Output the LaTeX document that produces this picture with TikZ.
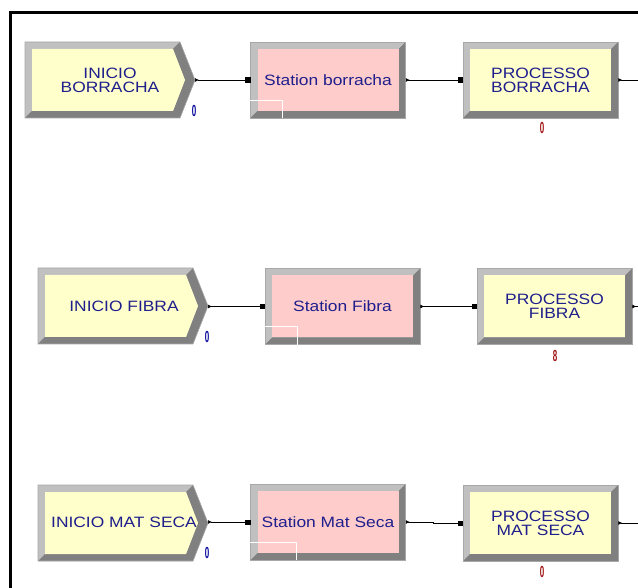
\documentclass[tikz,border=0pt]{standalone}
\usepackage{fontspec}
\usepackage{tikz}
\usetikzlibrary{arrows.meta}
\newfontfamily\arenafont[FakeStretch=1.16]{Liberation Sans}
\newfontfamily\countfont[FakeStretch=0.5]{Liberation Sans}
\definecolor{navy}{HTML}{1E1E8C}
\definecolor{bevlight}{HTML}{C0C0C0}
\definecolor{bevdark}{HTML}{808080}
\definecolor{bevedge}{HTML}{A8A8A8}
\definecolor{yellowfill}{HTML}{FFFFCC}
\definecolor{pinkfill}{HTML}{FFCCCC}
\definecolor{cntblue}{HTML}{0A0A9C}
\definecolor{cntred}{HTML}{A01414}

\tikzset{
  modtext/.style={font=\arenafont\fontsize{15}{14}\selectfont, text=navy, align=center, inner sep=0pt},
  module/.style={modtext, minimum width=155pt, minimum height=76pt, fill=bevlight, draw=bevedge, line width=0.6pt,
    path picture={
      \fill[bevdark] (path picture bounding box.south west) -- (path picture bounding box.south east)
        -- (path picture bounding box.north east) -- ([shift={(-7pt,-7pt)}]path picture bounding box.north east)
        -- ([shift={(-7pt,7pt)}]path picture bounding box.south east) -- ([shift={(7pt,7pt)}]path picture bounding box.south west) -- cycle;
      \fill[#1] ([shift={(7pt,7pt)}]path picture bounding box.south west) rectangle ([shift={(-7pt,-7pt)}]path picture bounding box.north east);
    }},
  createmod/.pic={
    \fill[bevlight] (0,0) -- (155,0) -- (170,38) -- (155,76) -- (0,76) -- cycle;
    \fill[bevdark] (155,0) -- (170,38) -- (155,76) -- (0,76) -- (7,69) -- (148,69) -- (160,38) -- (148,7) -- cycle;
    \fill[yellowfill] (7,7) -- (148,7) -- (160,38) -- (148,69) -- (7,69) -- cycle;
    \draw[bevedge, line width=0.6pt] (0,0) -- (155,0) -- (170,38) -- (155,76) -- (0,76) -- cycle;
  },
  conn/.style={line width=0.7pt, arrows={Latex[reversed,length=4pt,width=4pt]-Square[length=5pt,width=5pt]}},
  leave/.style={line width=0.7pt, arrows={Latex[reversed,length=4pt,width=4pt]-}},
  counter/.style={font=\countfont\bfseries\fontsize{16}{16}\selectfont, inner sep=0pt},
  marker/.style={white, line width=0.8pt}
}

\begin{document}
\begin{tikzpicture}[x=1pt,y=-1pt]
    \useasboundingbox[fill=white] (0,0) rectangle (638,588);
    \draw[line width=3pt] (10.5,600) -- (10.5,13) -- (650,13);

    % borracha
    \pic at (25,42) {createmod};
    \node[modtext] (cb) at (110,80) {INICIO\\BORRACHA};
    \coordinate (cb-out) at (195,80);
    \node[module=pinkfill] (sb) at (328,80) {Station borracha};
    \node[module=yellowfill] (pb) at (540.5,80) {PROCESSO\\BORRACHA};
    \coordinate (pb-out) at (650,80);
    \node[counter,text=cntblue] (cbn) at (194,110.5) {0};
    \node[counter,text=cntred] (pbn) at (542,128) {0};
    \draw[marker] ([yshift=18pt]sb.south west) -| ([xshift=32pt]sb.south west);
    \draw[conn] (cb-out) -- (sb.west);
    \draw[conn] (sb.east) -- (pb.west);
    \draw[leave] (pb.east) -- (pb-out);

    % fibra
    \pic at (38,268) {createmod};
    \node[modtext] (cf) at (124,306.5) {INICIO FIBRA};
    \coordinate (cf-out) at (208,306.5);
    \node[module=pinkfill] (sf) at (342.5,306.5) {Station Fibra};
    \node[module=yellowfill] (pf) at (554.5,306.5) {PROCESSO\\FIBRA};
    \coordinate (pf-out) at (650,306.5);
    \node[counter,text=cntblue] (cfn) at (207,337) {0};
    \node[counter,text=cntred] (pfn) at (555,355.5) {8};
    \draw[marker] ([yshift=18pt]sf.south west) -| ([xshift=33pt]sf.south west);
    \draw[conn] (cf-out) -- (sf.west);
    \draw[conn] (sf.east) -- (pf.west);
    \draw[leave] (pf.east) -- (pf-out);

    % mat seca
    \pic at (38,485) {createmod};
    \node[modtext] (cm) at (124,522) {INICIO MAT SECA};
    \coordinate (cm-out) at (208,522);
    \node[module=pinkfill] (sm) at (328,522) {Station Mat Seca};
    \node[module=yellowfill] (pm) at (540.5,523) {PROCESSO\\MAT SECA};
    \coordinate (pm-out) at (650,523);
    \node[counter,text=cntblue] (cmn) at (207,553) {0};
    \node[counter,text=cntred] (pmn) at (542,572) {0};
    \draw[marker] ([yshift=18pt]sm.south west) -| ([xshift=46pt]sm.south west);
    \draw[conn] (cm-out) -- (sm.west);
    \draw[conn] (sm.east) -- ++(28,0) |- (pm.west);
    \draw[leave] (pm.east) -- (pm-out);
\end{tikzpicture}
\end{document}
